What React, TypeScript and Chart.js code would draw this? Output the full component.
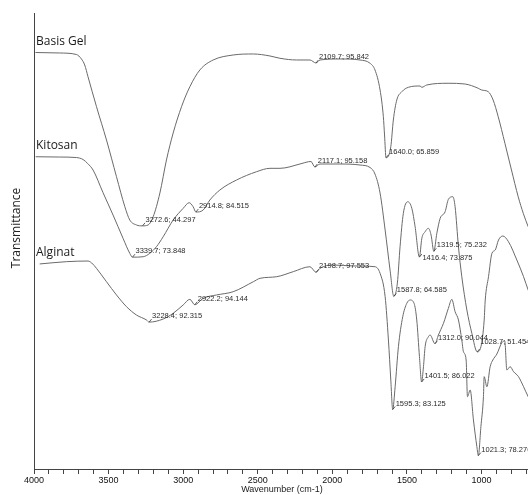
import React, { useEffect, useRef } from "react";
import { Chart, registerables } from "chart.js";

Chart.register(...registerables);

// [wavenumber (cm-1), transmittance (%)]
const basisGel: [number, number][] = [
  [3990, 99.16], [3828, 99.01], [3716, 98.53], [3682, 97.11], [3660, 95.21], [3638, 91.51],
  [3581, 82.01], [3514, 71.47], [3447, 59.86], [3391, 50.37], [3358, 46.16], [3313, 44.58],
  [3272.6, 44.297], [3235, 44.58], [3201, 47.2], [3156, 54.7], [3112, 65.15], [3067, 73.69],
  [3011, 82.01], [2955, 88.34], [2888, 93.63], [2799, 96.79], [2665, 98.37], [2530, 98.69],
  [2418, 98.06], [2351, 97.33], [2239, 96.79], [2150, 96.79], [2109.7, 95.842], [2083, 96.79],
  [1948, 97.11], [1814, 96.79], [1747, 95.75], [1714, 93.63], [1680, 87.3], [1658, 78.85],
  [1650, 73.06], [1640, 65.859], [1608, 69.35], [1591, 77.8], [1568, 84.13], [1534, 86.76],
  [1490, 88.15], [1412, 88.56], [1400, 88.15], [1367, 88.88], [1224, 89.42], [1112, 89.2],
  [1022, 87.84], [1000, 87.3], [955, 86.76], [922, 84.13], [888, 78.85], [843, 70.43],
  [799, 61.98], [754, 53.53], [720, 48.28], [687, 44.04], [650, 40.0],
];

const kitosan: [number, number][] = [
  [3989, 97.59], [3828, 97.52], [3716, 97.4], [3671, 96.93], [3640, 95.98], [3604, 94.45],
  [3537, 89.08], [3470, 83.81], [3403, 78.3], [3358, 74.76], [3339.7, 73.848], [3268.5, 73.95],
  [3223.5, 74.76], [3179, 76.32], [3134, 78.68], [3067, 82.63], [3000, 85.39], [2960, 86.72],
  [2933, 85.77], [2914.8, 84.515], [2866, 84.99], [2821, 87.36], [2754, 89.72], [2642, 92.09],
  [2508, 94.05], [2418, 94.85], [2351, 94.85], [2217, 95.87], [2161, 96.41], [2143, 96.46],
  [2117.1, 95.158], [2083, 95.87], [1948, 95.87], [1814, 95.63], [1747, 95.04], [1714, 93.5],
  [1680, 89.01], [1646, 80.26], [1613, 70.81], [1587.8, 64.585], [1564, 67.73], [1546, 76.32],
  [1524, 84.21], [1494, 86.95], [1467, 85.39], [1445, 81.04], [1416.4, 73.875], [1400, 78.3],
  [1378, 79.86], [1356, 80.67], [1338, 79.08], [1319.5, 75.232], [1299.5, 79.48], [1277, 83.03],
  [1244, 84.59], [1222, 87.52], [1192, 88.14], [1177, 85.77], [1154.5, 76.32], [1132, 69.23],
  [1098, 61.35], [1064.6, 55.84], [1028.7, 51.454], [1004, 52.67], [982, 58.99], [975, 63.71],
  [953, 69.23], [930, 74.76], [908, 75.54], [886, 77.9], [857, 78.85], [819, 77.5],
  [763, 73.17], [718, 69.23], [687, 66.08], [650, 63.0],
];

const alginat: [number, number][] = [
  [3962, 98.43], [3783, 98.67], [3638, 98.74], [3613, 98.53], [3581, 97.97], [3514, 96.56],
  [3447, 95.17], [3380, 93.94], [3313, 93.06], [3246, 92.54], [3228.4, 92.315], [3134, 92.64],
  [3067, 93.24], [3000, 94.12], [2955, 94.71], [2922.2, 94.144], [2866, 94.82], [2776, 95.17],
  [2665, 95.51], [2530, 96.56], [2485, 96.92], [2373, 97.09], [2262, 97.62], [2150, 98.14],
  [2108.7, 97.553], [2083, 97.97], [1993, 98.32], [1859, 98.22], [1714, 98.14], [1680, 97.45],
  [1646, 94.99], [1624, 90.43], [1608, 86.22], [1595.3, 83.125], [1579, 85.52], [1557, 89.73],
  [1528, 92.88], [1501, 94.29], [1478, 94.64], [1452, 94.29], [1434, 92.54], [1416, 88.68],
  [1401.5, 86.022], [1389, 87.63], [1378, 89.73], [1356, 90.78], [1344.5, 90.96], [1312.0, 90.044],
  [1289, 90.96], [1255, 92.19], [1222, 93.77], [1199, 94.71], [1177, 93.41], [1154.5, 92.54],
  [1132, 90.43], [1121, 89.2], [1103, 88.33], [1094, 84.47], [1076, 85.18], [1054, 82.02],
  [1031, 79.21], [1021.3, 78.276], [1004, 81.32], [987, 84.47], [982, 86.58], [964, 85.52],
  [942, 87.63], [924, 88.33], [897, 88.96], [863, 90.17], [844, 90.33], [830, 87.28],
  [808, 87.63], [785, 87.1], [752, 86.58], [718, 85.52], [687, 84.47], [650, 83.5],
];

const seriesNames = ["Basis Gel", "Kitosan", "Alginat"];

// peak annotations: [wavenumber, transmittance], with their printed labels
const basisPeaks: [number, number][] = [[3272.6, 44.297], [2109.7, 95.842], [1640.0, 65.859]];
const basisPeakLabels = ["3272.6; 44.297", "2109.7; 95.842", "1640.0; 65.859"];

const kitosanPeaks: [number, number][] = [
  [3339.7, 73.848], [2914.8, 84.515], [2117.1, 95.158], [1587.8, 64.585],
  [1416.4, 73.875], [1319.5, 75.232], [1028.7, 51.454],
];
const kitosanPeakLabels = [
  "3339.7; 73.848", "2914.8; 84.515", "2117.1; 95.158", "1587.8; 64.585",
  "1416.4; 73.875", "1319.5; 75.232", "1028.7; 51.454",
];

const alginatPeaks: [number, number][] = [
  [3228.4, 92.315], [2922.2, 94.144], [2108.7, 97.553], [1595.3, 83.125],
  [1401.5, 86.022], [1312.0, 90.044], [1021.3, 78.276],
];
const alginatPeakLabels = [
  "3228.4; 92.315", "2922.2; 94.144", "2198.7; 97.553", "1595.3; 83.125",
  "1401.5; 86.022", "1312.0; 90.044", "1021.3; 78.276",
];

const xTitle = "Wavenumber (cm-1)";
const yTitle = "Transmittance";

// label vertical offsets that differ from the default
const labelDy: Record<string, number> = { "1416.4; 73.875": 1, "1028.7; 51.454": -10 };

const LINE = "#6a6a6a";
const AXIS = "#444";

export default function App() {
  const ref = useRef<HTMLCanvasElement>(null);

  useEffect(() => {
    if (!ref.current) return;
    const series = [
      { name: seriesNames[0], data: basisGel, axis: "yB", peaks: basisPeaks, labels: basisPeakLabels },
      { name: seriesNames[1], data: kitosan, axis: "yK", peaks: kitosanPeaks, labels: kitosanPeakLabels },
      { name: seriesNames[2], data: alginat, axis: "yA", peaks: alginatPeaks, labels: alginatPeakLabels },
    ];

    const overlay = {
      id: "overlay",
      afterDatasetsDraw(chart: any) {
        const { ctx, chartArea, scales } = chart;
        const x = scales.x;
        ctx.save();
        // y axis line
        ctx.strokeStyle = AXIS;
        ctx.lineWidth = 1;
        ctx.beginPath();
        ctx.moveTo(Math.round(chartArea.left) + 0.5, chartArea.top);
        ctx.lineTo(Math.round(chartArea.left) + 0.5, chartArea.bottom);
        ctx.stroke();

        series.forEach((s) => {
          const y = scales[s.axis];
          // series name
          const first = s.data[0];
          ctx.fillStyle = "#1a1a1a";
          ctx.font = "12px 'Open Sans'";
          ctx.textAlign = "left";
          ctx.textBaseline = "middle";
          ctx.fillText(s.name, chartArea.left + 2, y.getPixelForValue(first[1]) - 11);

          // peaks
          ctx.font = "7.5px 'Liberation Sans', Arial";
          s.peaks.forEach((p, i) => {
            const px = x.getPixelForValue(p[0]);
            const py = y.getPixelForValue(p[1]);
            ctx.strokeStyle = "#333";
            ctx.lineWidth = 0.8;
            ctx.beginPath();
            ctx.moveTo(px, py);
            ctx.lineTo(px + 2.5, py - 3);
            ctx.stroke();
            const txt = s.labels[i];
            const dy = labelDy[txt] !== undefined ? labelDy[txt] : -6;
            ctx.fillStyle = "#2a2a2a";
            ctx.fillText(txt, px + 3, py + dy);
          });
        });

        // axis titles
        ctx.fillStyle = "#222";
        ctx.font = "9px 'Liberation Sans', Arial";
        ctx.textAlign = "center";
        ctx.textBaseline = "middle";
        ctx.fillText(xTitle, 282, 490);

        ctx.font = "12px 'Open Sans'";
        ctx.translate(17, 228);
        ctx.rotate(-Math.PI / 2);
        ctx.fillText(yTitle, 0, 0);
        ctx.restore();
      },
    };

    const chart = new Chart(ref.current, {
      type: "line",
      data: {
        datasets: series.map((s) => ({
          label: s.name,
          data: s.data.map(([w, t]) => ({ x: w, y: t })),
          yAxisID: s.axis,
          borderColor: LINE,
          borderWidth: 1,
          pointRadius: 0,
          cubicInterpolationMode: "monotone" as const,
          fill: false,
        })),
      },
      options: {
        responsive: false,
        animation: false,
        parsing: true,
        layout: { padding: { left: 34, top: 13, right: 9, bottom: 0 } },
        plugins: { legend: { display: false }, tooltip: { enabled: false }, title: { display: false } },
        scales: {
          x: {
            type: "linear",
            position: "bottom",
            reverse: true,
            min: 400,
            max: 4000,
            afterFit: (s: any) => {
              s.height = 26;
            },
            ticks: {
              stepSize: 100,
              autoSkip: false,
              maxRotation: 0,
              padding: 1,
              color: "#111",
              font: { family: "'Liberation Sans', Arial", size: 9 },
              callback: (v: any) => (Number(v) % 500 === 0 ? String(v) : ""),
            },
            grid: { drawOnChartArea: false, drawTicks: true, tickLength: 5, color: AXIS },
            border: { display: true, color: AXIS, width: 1 },
          },
          yB: { display: false, min: -32.64, max: 111.66 },
          yK: { display: false, min: 23.77, max: 131.57 },
          yA: { display: false, min: 76.87, max: 124.82 },
        },
      },
      plugins: [overlay],
    });
    return () => chart.destroy();
  }, []);

  return (
    <div
      style={{
        position: "fixed",
        left: 0,
        top: 0,
        width: 528,
        height: 495,
        overflow: "hidden",
        background: "#fff",
      }}
    >
      <canvas ref={ref} width={580} height={495} style={{ display: "block" }} />
    </div>
  );
}
